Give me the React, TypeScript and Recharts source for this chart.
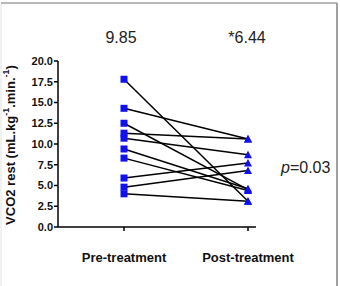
import { LineChart, Line, XAxis, YAxis } from 'recharts';

const categories = ['Pre-treatment', 'Post-treatment'];
const preValues = [17.8, 14.3, 12.5, 11.3, 10.7, 9.4, 8.3, 5.9, 4.8, 4.0];
const postValues = [3.1, 10.6, 4.5, 10.6, 8.7, 4.6, 4.4, 7.7, 6.8, 3.1];
const yTicks = [0, 2.5, 5, 7.5, 10, 12.5, 15, 17.5, 20];
const meanLabels = ['9.85', '*6.44'];
const pValue = '=0.03';

const font = 'Arial, "Liberation Sans", sans-serif';
const blue = '#1010f0';

const data = categories.map((name, i) => {
  const row: Record<string, string | number> = { name };
  preValues.forEach((v, s) => {
    row['s' + s] = i === 0 ? v : postValues[s];
  });
  return row;
});

const seriesKeys = preValues.map((_, s) => 's' + s);

const Marker = (props: any) => {
  const { cx, cy, index } = props;
  if (cx == null || cy == null) return null;
  if (index === 0) {
    return <rect key={props.key} x={cx - 3.5} y={cy - 3.5} width={7} height={7} fill={blue} />;
  }
  return (
    <polygon
      key={props.key}
      points={`${cx},${cy - 4} ${cx - 4},${cy + 3.5} ${cx + 4},${cy + 3.5}`}
      fill={blue}
    />
  );
};

export default function App() {
  return (
    <div style={{ position: 'absolute', left: 0, top: 0, width: 340, height: 286, background: '#fff', fontFamily: font }}>
      <LineChart width={340} height={286} data={data} margin={{ top: 61, right: 84, bottom: 29, left: 8 }}>
        <XAxis
          dataKey="name"
          padding={{ left: 66, right: 8 }}
          axisLine={{ stroke: '#000', strokeWidth: 1.5 }}
          tickLine={{ stroke: '#000', strokeWidth: 1.5 }}
          tickSize={4}
          tickMargin={22}
          tick={{ fill: '#111', fontSize: 13, fontWeight: 'bold', fontFamily: font }}
          interval={0}
        />
        <YAxis
          width={50}
          domain={[0, 20]}
          ticks={yTicks}
          tickFormatter={(v: number) => v.toFixed(1)}
          axisLine={{ stroke: '#000', strokeWidth: 1.5 }}
          tickLine={{ stroke: '#000', strokeWidth: 1.5 }}
          tickSize={4}
          tickMargin={1}
          tick={{ fill: '#111', fontSize: 11, fontWeight: 'bold', fontFamily: font }}
        />
        {seriesKeys.map((k) => (
          <Line key={'l' + k} dataKey={k} stroke="#000" strokeWidth={1.5} dot={false} activeDot={false} isAnimationActive={false} />
        ))}
        {seriesKeys.map((k) => (
          <Line key={'d' + k} dataKey={k} stroke="none" dot={<Marker />} activeDot={false} isAnimationActive={false} />
        ))}
      </LineChart>
      <svg width={340} height={286} style={{ position: 'absolute', left: 0, top: 0, pointerEvents: 'none' }}>
        <line x1={1} y1={3} x2={1} y2={286} stroke="#e2e2e2" strokeWidth={1} />
        <line x1={1} y1={3} x2={337} y2={3} stroke="#a0a0a0" strokeWidth={1.5} />
        <line x1={337} y1={3} x2={337} y2={286} stroke="#a0a0a0" strokeWidth={2} />
        <text x={121} y={43} textAnchor="middle" fontSize={16} fontFamily={font} fill="#222">{meanLabels[0]}</text>
        <text x={247} y={43} textAnchor="middle" fontSize={16} fontFamily={font} fill="#222">{meanLabels[1]}</text>
        <text x={281} y={173} fontSize={16} fontFamily={font} fill="#222">
          <tspan fontStyle="italic">p</tspan>
          <tspan>{pValue}</tspan>
        </text>
        <text
          transform="translate(15,145) rotate(-90)"
          textAnchor="middle"
          fontSize={13}
          fontWeight="bold"
          fontFamily={font}
          fill="#111"
        >
          <tspan>VCO2 rest (mL.kg</tspan>
          <tspan fontSize={9} dy={-6}>-1</tspan>
          <tspan dy={6}>.min.</tspan>
          <tspan fontSize={9} dy={-6}>-1</tspan>
          <tspan dy={6}>)</tspan>
        </text>
      </svg>
    </div>
  );
}
